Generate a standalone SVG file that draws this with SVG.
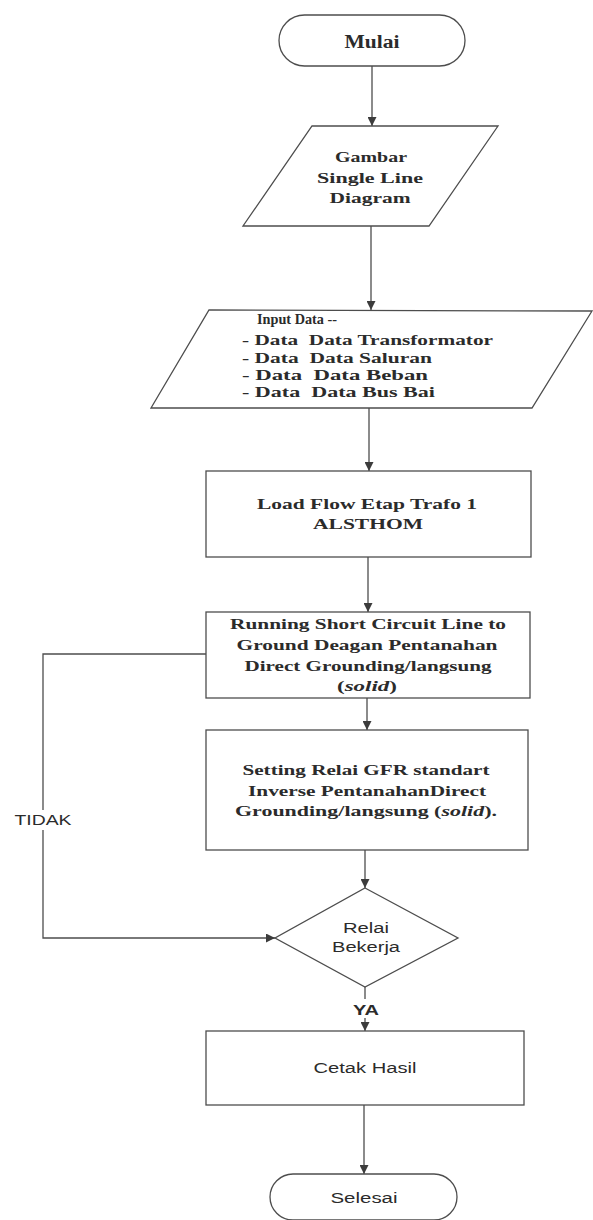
<svg xmlns="http://www.w3.org/2000/svg" width="593" height="1220" viewBox="0 0 593 1220">
  <defs>
    <marker id="arrow" markerUnits="userSpaceOnUse" markerWidth="9" markerHeight="9" refX="9" refY="4.5" orient="auto">
      <path d="M0,0 L9,4.5 L0,9 z" fill="#3c3c3c"/>
    </marker>
  </defs>
  <style>
    .shape { fill: #ffffff; stroke: #4d4d4d; stroke-width: 1.3; }
    .link { fill: none; stroke: #4d4d4d; stroke-width: 1.3; marker-end: url(#arrow); }
    .serif { font-family: "Liberation Serif", "Times New Roman", serif; font-weight: bold; fill: #2b2b2b; }
    .sans { font-family: "Liberation Sans", Arial, sans-serif; fill: #2b2b2b; }
    .mid { text-anchor: middle; }
  </style>
  <rect width="593" height="1220" fill="#ffffff"/>

  <!-- connectors -->
  <g id="connectors">
    <path class="link" d="M372,66 V126"/>
    <path class="link" d="M371,226 V310"/>
    <path class="link" d="M369,408 V471"/>
    <path class="link" d="M368,557 V612"/>
    <path class="link" d="M367,698 V730"/>
    <path class="link" d="M365,850 V888"/>
    <path class="link" d="M365,987 V1031"/>
    <path class="link" d="M364,1105 V1174"/>
    <path class="link" d="M206,654 H43 V938 H275"/>
    <rect x="12" y="810" width="62" height="20" fill="#ffffff"/>
    <text class="sans mid" x="43" y="825" font-size="14" textLength="57" lengthAdjust="spacingAndGlyphs">TIDAK</text>
    <rect x="350" y="999" width="30" height="19" fill="#ffffff"/>
    <text class="sans mid" x="366" y="1015" font-size="15" font-weight="bold" textLength="26" lengthAdjust="spacingAndGlyphs">YA</text>
  </g>

  <!-- start -->
  <g id="mulai">
    <rect class="shape" x="279" y="15" width="186" height="51" rx="25.5" ry="25.5"/>
    <text class="serif mid" x="372" y="48" font-size="18" textLength="55" lengthAdjust="spacingAndGlyphs">Mulai</text>
  </g>

  <!-- single line diagram input -->
  <g id="gambar">
    <polygon class="shape" points="312,126 498,126 429,226 243,226"/>
    <text class="serif mid" x="371" y="162" font-size="15" textLength="72" lengthAdjust="spacingAndGlyphs">Gambar</text>
    <text class="serif mid" x="370" y="183" font-size="15" textLength="106" lengthAdjust="spacingAndGlyphs">Single Line</text>
    <text class="serif mid" x="370" y="203" font-size="15" textLength="81" lengthAdjust="spacingAndGlyphs">Diagram</text>
  </g>

  <!-- data input -->
  <g id="input-data">
    <polygon class="shape" points="209,310 592,311 532,408 151,408"/>
    <text class="serif" x="257" y="324" font-size="15" textLength="80" lengthAdjust="spacingAndGlyphs">Input Data --</text>
    <text class="serif" x="242" y="345" font-size="15" textLength="251" lengthAdjust="spacingAndGlyphs" xml:space="preserve">- Data  Data Transformator</text>
    <text class="serif" x="242" y="363" font-size="15" textLength="190" lengthAdjust="spacingAndGlyphs" xml:space="preserve">- Data  Data Saluran</text>
    <text class="serif" x="242" y="380" font-size="15" textLength="186" lengthAdjust="spacingAndGlyphs" xml:space="preserve">- Data  Data Beban</text>
    <text class="serif" x="242" y="397" font-size="15" textLength="193" lengthAdjust="spacingAndGlyphs" xml:space="preserve">- Data  Data Bus Bai</text>
  </g>

  <!-- load flow -->
  <g id="load-flow">
    <rect class="shape" x="206" y="471" width="325" height="86"/>
    <text class="serif mid" x="367" y="509" font-size="15" textLength="220" lengthAdjust="spacingAndGlyphs">Load Flow Etap Trafo 1</text>
    <text class="serif mid" x="368" y="529" font-size="15" textLength="110" lengthAdjust="spacingAndGlyphs">ALSTHOM</text>
  </g>

  <!-- short circuit run -->
  <g id="short-circuit">
    <rect class="shape" x="206" y="612" width="324" height="86"/>
    <text class="serif mid" x="368" y="629" font-size="15" textLength="276" lengthAdjust="spacingAndGlyphs">Running Short Circuit Line to</text>
    <text class="serif mid" x="367" y="650" font-size="15" textLength="261" lengthAdjust="spacingAndGlyphs">Ground Deagan Pentanahan</text>
    <text class="serif mid" x="368" y="671" font-size="15" textLength="247" lengthAdjust="spacingAndGlyphs">Direct Grounding/langsung</text>
    <text class="serif mid" x="367" y="691" font-size="15" textLength="60" lengthAdjust="spacingAndGlyphs">(<tspan font-style="italic">solid</tspan>)</text>
  </g>

  <!-- relay setting -->
  <g id="setting-relai">
    <rect class="shape" x="206" y="730" width="322" height="120"/>
    <text class="serif mid" x="366" y="775" font-size="15" textLength="247" lengthAdjust="spacingAndGlyphs">Setting Relai GFR standart</text>
    <text class="serif mid" x="367" y="796" font-size="15" textLength="238" lengthAdjust="spacingAndGlyphs">Inverse PentanahanDirect</text>
    <text class="serif mid" x="366" y="816" font-size="15" textLength="262" lengthAdjust="spacingAndGlyphs">Grounding/langsung (<tspan font-style="italic">solid</tspan>).</text>
  </g>

  <!-- decision -->
  <g id="relai-bekerja">
    <polygon class="shape" points="365,888 458,938 365,987 275,938"/>
    <text class="sans mid" x="366" y="933" font-size="14" textLength="46" lengthAdjust="spacingAndGlyphs">Relai</text>
    <text class="sans mid" x="366" y="952" font-size="14" textLength="68" lengthAdjust="spacingAndGlyphs">Bekerja</text>
  </g>

  <!-- print result -->
  <g id="cetak-hasil">
    <rect class="shape" x="206" y="1031" width="318" height="74"/>
    <text class="sans mid" x="365" y="1073" font-size="14" textLength="103" lengthAdjust="spacingAndGlyphs">Cetak Hasil</text>
  </g>

  <!-- end -->
  <g id="selesai">
    <rect class="shape" x="270" y="1174" width="187" height="46" rx="23" ry="23"/>
    <text class="sans mid" x="364" y="1203" font-size="14" textLength="67" lengthAdjust="spacingAndGlyphs">Selesai</text>
  </g>
</svg>
